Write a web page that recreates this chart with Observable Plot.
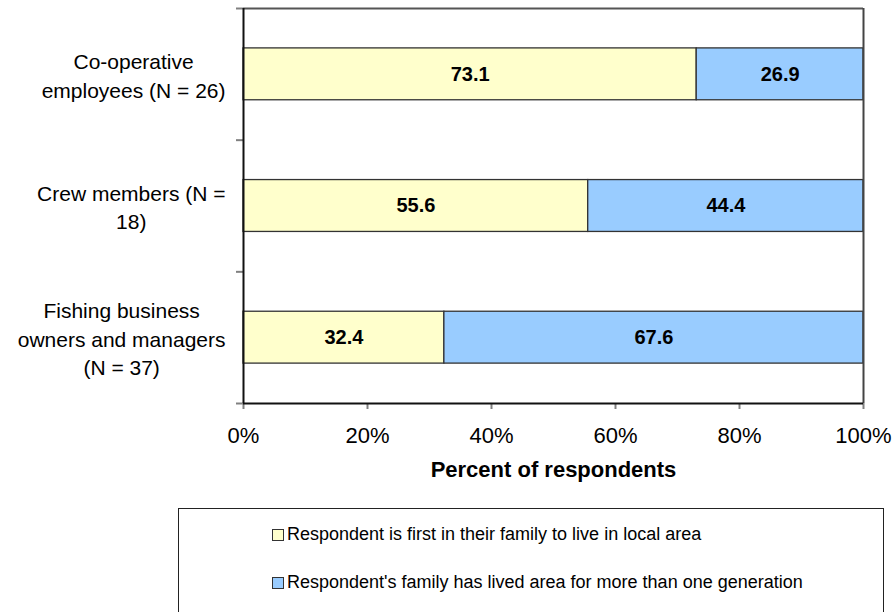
<!DOCTYPE html>
<html>
<head>
<meta charset="utf-8">
<script src="https://cdn.jsdelivr.net/npm/d3@7"></script>
<script src="https://cdn.jsdelivr.net/npm/@observablehq/plot@0.6"></script>
<style>
  body { margin: 0; background: #fff; font-family: "Liberation Sans", Arial, sans-serif; }
  #wrap { position: relative; width: 895px; height: 612px; overflow: hidden; }
  #legend { position: absolute; left: 178px; top: 508px; width: 706px; height: 120px;
            border: 1px solid #222; box-sizing: border-box; background: #fff; }
  .item { position: absolute; left: 93px; font-size: 18px; color: #000; display: flex; align-items: center; white-space: nowrap; }
  .sw { width: 10px; height: 10px; border: 1px solid #333; margin-right: 3px; }
</style>
</head>
<body>
<div id="wrap"></div>
<script>
const categories = ["Co-operative\nemployees (N = 26)", "Crew members (N =\n18)", "Fishing business\nowners and managers\n(N = 37)"];
const series = ["Respondent is first in their family to live in local area",
                "Respondent's family has lived area for more than one generation"];
const firstInFamily = [73.1, 55.6, 32.4];
const multiGeneration = [26.9, 44.4, 67.6];
const xTicks = [0, 20, 40, 60, 80, 100];
const colors = ["#FFFFCC", "#99CCFF"];
const xTitle = "Percent of respondents";

const rows = [];
categories.forEach((c, i) => {
  const vals = [firstInFamily[i], multiGeneration[i]];
  const cum = d3.cumsum(vals);
  vals.forEach((v, j) => {
    rows.push({cat: c, idx: i, series: series[j], value: v, x1: cum[j] - v, x2: cum[j]});
  });
});

// Excel-style wrapped labels: each block centred on its widest line, right edge near the axis
const labelFont = 21;
const ctx = document.createElement("canvas").getContext("2d");
ctx.font = `${labelFont}px 'Liberation Sans', Arial, sans-serif`;
const labelAxes = categories.map((c, i) => {
  const w = d3.max(c.split("\n"), l => ctx.measureText(l).width);
  return Plot.axisY({ticks: [i + 0.5], tickSize: 0, tickPadding: 18 + w / 2,
                     tickFormat: () => c, textAnchor: "middle",
                     fontSize: labelFont, lineHeight: 1.35, label: null});
});

const half = 0.197;
const chart = Plot.plot({
  width: 895, height: 500,
  marginLeft: 243, marginRight: 32, marginTop: 8, marginBottom: 97,
  style: {fontFamily: "'Liberation Sans', Arial, sans-serif", background: "#fff", color: "#000"},
  x: {domain: [0, 100]},
  y: {domain: [0, categories.length], reverse: true},
  color: {domain: series, range: colors},
  marks: [
    Plot.rect(rows, {x1: "x1", x2: "x2", y1: d => d.idx + 0.5 - half, y2: d => d.idx + 0.5 + half,
                     fill: "series", stroke: "#333", strokeWidth: 1.3}),
    Plot.text(rows, {x: d => (d.x1 + d.x2) / 2, y: d => d.idx + 0.5, text: d => d.value.toFixed(1),
                     fontWeight: "bold", fontSize: 20, fill: "#000"}),
    Plot.ruleY([0], {stroke: "#555", strokeWidth: 2}),
    Plot.ruleX([100], {stroke: "#444", strokeWidth: 2}),
    Plot.axisY({ticks: d3.range(categories.length + 1), tickSize: 7, tickFormat: () => "", stroke: "#808080", strokeWidth: 2, label: null}),
    ...labelAxes,
    Plot.axisX({ticks: xTicks, tickFormat: d => d + "%", tickSize: 6, tickPadding: 18,
                fontSize: 22, stroke: "#808080", strokeWidth: 2, label: null}),
    Plot.ruleX([0], {stroke: "#111", strokeWidth: 2}),
    Plot.ruleY([categories.length], {stroke: "#111", strokeWidth: 2}),
    Plot.text([xTitle], {frameAnchor: "bottom", dy: 73, text: d => d, fontWeight: "bold", fontSize: 22, fill: "#000"})
  ]
});

const wrap = document.getElementById("wrap");
wrap.appendChild(chart);
const legend = document.createElement("div");
legend.id = "legend";
series.forEach((s, j) => {
  const it = document.createElement("div");
  it.className = "item";
  it.style.top = (j === 0 ? 15 : 63) + "px";
  const sw = document.createElement("span");
  sw.className = "sw";
  sw.style.background = colors[j];
  it.appendChild(sw);
  const t = document.createElement("span");
  t.textContent = s;
  it.appendChild(t);
  legend.appendChild(it);
});
wrap.appendChild(legend);
</script>
</body>
</html>
